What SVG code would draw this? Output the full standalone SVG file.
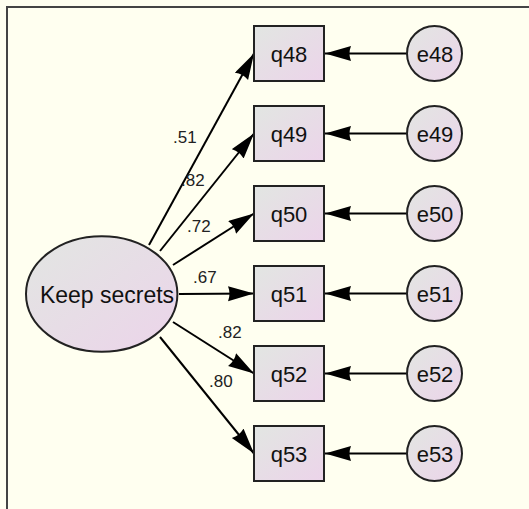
<svg xmlns="http://www.w3.org/2000/svg" width="529" height="509" viewBox="0 0 529 509">
<defs>
<linearGradient id="g" x1="0" y1="0" x2="1" y2="1">
<stop offset="0" stop-color="#e2e6e2"/>
<stop offset="1" stop-color="#ecd4ea"/>
</linearGradient>
<marker id="ah" markerUnits="userSpaceOnUse" markerWidth="28" markerHeight="16" refX="26" refY="7.5" orient="auto">
<path d="M0,0 L26,7.5 L0,15 Q3,7.5 0,0 z" fill="#000"/>
</marker>
<style>
.box{fill:url(#g);stroke:#222;stroke-width:2}
.lbl{font-family:"Liberation Sans",Arial,sans-serif;font-size:22px;fill:#111;text-anchor:middle}
.w{font-family:"Liberation Sans",Arial,sans-serif;font-size:17px;fill:#222}
.c{stroke:#000;stroke-width:2;fill:none;marker-end:url(#ah)}
</style>
</defs>
<rect x="0" y="0" width="529" height="509" fill="#fffff0"/>
<rect x="7" y="7" width="600" height="600" fill="none" stroke="#444" stroke-width="2"/>
<g id="connectors">
<line class="c" x1="149" y1="245" x2="254" y2="53.5"/>
<line class="c" x1="160" y1="251" x2="254" y2="133.5"/>
<line class="c" x1="173" y1="265" x2="254" y2="213.5"/>
<line class="c" x1="179" y1="294" x2="254" y2="293.5"/>
<line class="c" x1="173" y1="322" x2="254" y2="373.5"/>
<line class="c" x1="160" y1="337" x2="254" y2="453.5"/>
<line class="c" x1="407" y1="53.5" x2="325" y2="53.5"/>
<line class="c" x1="407" y1="133.5" x2="325" y2="133.5"/>
<line class="c" x1="407" y1="213.5" x2="325" y2="213.5"/>
<line class="c" x1="407" y1="293.5" x2="325" y2="293.5"/>
<line class="c" x1="407" y1="373.5" x2="325" y2="373.5"/>
<line class="c" x1="407" y1="453.5" x2="325" y2="453.5"/>
</g>
<g id="weights">
<text class="w" x="173" y="143">.51</text>
<text class="w" x="181" y="186">.82</text>
<text class="w" x="187" y="232">.72</text>
<text class="w" x="193" y="283">.67</text>
<text class="w" x="218" y="338">.82</text>
<text class="w" x="209" y="387">.80</text>
</g>
<g id="keep_secrets">
<ellipse class="box" cx="101.7" cy="294" rx="75.7" ry="57.8"/>
<text class="lbl" x="107" y="303" style="font-size:23px">Keep secrets</text>
</g>
<g id="q48"><rect class="box" x="254" y="26" width="70" height="55"/><text class="lbl" x="289" y="62">q48</text></g>
<g id="q49"><rect class="box" x="254" y="106" width="70" height="55"/><text class="lbl" x="289" y="142">q49</text></g>
<g id="q50"><rect class="box" x="254" y="186" width="70" height="55"/><text class="lbl" x="289" y="222">q50</text></g>
<g id="q51"><rect class="box" x="254" y="266" width="70" height="55"/><text class="lbl" x="289" y="302">q51</text></g>
<g id="q52"><rect class="box" x="254" y="346" width="70" height="55"/><text class="lbl" x="289" y="382">q52</text></g>
<g id="q53"><rect class="box" x="254" y="426" width="70" height="55"/><text class="lbl" x="289" y="462">q53</text></g>
<g id="e48"><circle class="box" cx="434.5" cy="53.5" r="27.5"/><text class="lbl" x="435" y="62">e48</text></g>
<g id="e49"><circle class="box" cx="434.5" cy="133.5" r="27.5"/><text class="lbl" x="435" y="142">e49</text></g>
<g id="e50"><circle class="box" cx="434.5" cy="213.5" r="27.5"/><text class="lbl" x="435" y="222">e50</text></g>
<g id="e51"><circle class="box" cx="434.5" cy="293.5" r="27.5"/><text class="lbl" x="435" y="302">e51</text></g>
<g id="e52"><circle class="box" cx="434.5" cy="373.5" r="27.5"/><text class="lbl" x="435" y="382">e52</text></g>
<g id="e53"><circle class="box" cx="434.5" cy="453.5" r="27.5"/><text class="lbl" x="435" y="462">e53</text></g>
</svg>
